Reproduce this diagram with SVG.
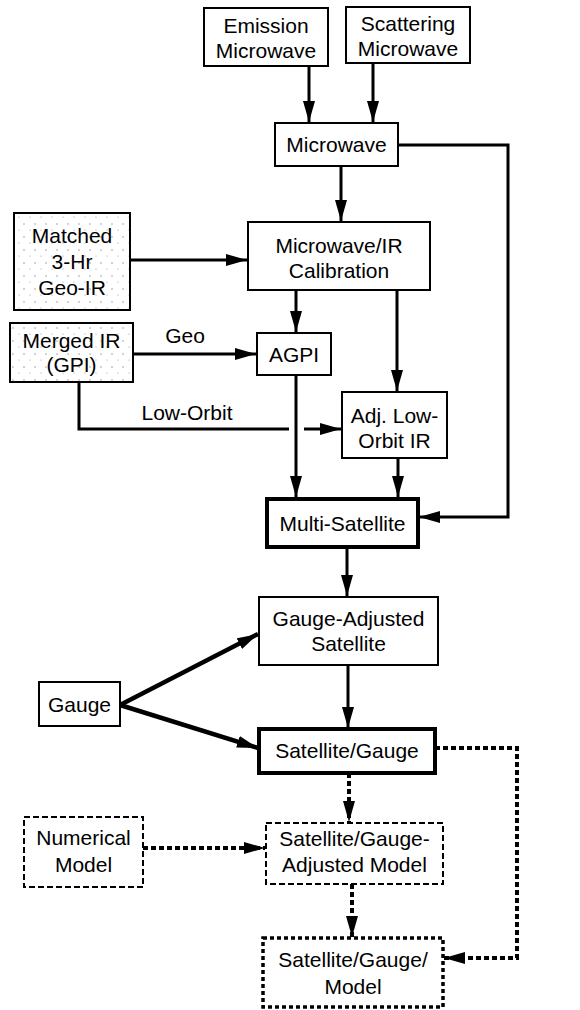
<svg xmlns="http://www.w3.org/2000/svg" width="580" height="1010" viewBox="0 0 580 1010">
<style>
text{font-family:"Liberation Sans",Arial,sans-serif;font-size:21px;fill:#000;text-anchor:middle}
.box{fill:#fff;stroke:#000;stroke-width:2}
.bold{fill:#fff;stroke:#000;stroke-width:4}
.stip{fill:url(#stipple);stroke:#000;stroke-width:2}
.dash{fill:#fff;stroke:#000;stroke-width:2;stroke-dasharray:6 3}
.dot{fill:#fff;stroke:#000;stroke-width:3.5;stroke-dasharray:4 3}
.c{fill:none;stroke:#000;stroke-width:3;marker-end:url(#ah)}
.cn{fill:none;stroke:#000;stroke-width:3}
.g{fill:none;stroke:#000;stroke-width:4.5;marker-end:url(#ah)}
.cd{fill:none;stroke:#000;stroke-width:4;stroke-dasharray:5 3;marker-end:url(#ah)}
</style>
<defs>
<pattern id="stipple" width="11" height="13" patternUnits="userSpaceOnUse">
<rect width="11" height="13" fill="#fff"/>
<circle cx="2" cy="3" r="0.7" fill="#888"/>
<circle cx="8" cy="9" r="0.6" fill="#999"/>
</pattern>
<marker id="ah" markerUnits="userSpaceOnUse" markerWidth="22" markerHeight="12" refX="21" refY="6" orient="auto">
<path d="M0,0 L21,6 L0,12 Z" fill="#000"/>
</marker>
</defs>
<rect width="580" height="1010" fill="#fff"/>
<g id="connectors">
<path class="c" d="M309,66 V122"/>
<path class="c" d="M373,63 V122"/>
<path class="c" d="M341,166 V221"/>
<path class="c" d="M398,145 H508 V517 H419"/>
<path class="c" d="M130,260 H247"/>
<path class="c" d="M133,354 H256"/>
<path class="c" d="M296,290 V332"/>
<path class="c" d="M397,290 V391"/>
<path class="cn" d="M79,382 V429 H289"/>
<path class="c" d="M304,429 H341"/>
<path class="c" d="M296,375 V497"/>
<path class="c" d="M398,458 V497"/>
<path class="c" d="M347,547 V596"/>
<path class="g" d="M120,705 L258,634"/>
<path class="g" d="M120,705 L258,748"/>
<path class="c" d="M348,665 V728"/>
<path class="cd" d="M435,748 H517 V958 H444"/>
<path class="cd" d="M349,773 V822"/>
<path class="cd" d="M143,848 H265"/>
<path class="cd" d="M352,884 V937"/>
<text x="185" y="343">Geo</text>
<text x="187" y="420">Low-Orbit</text>
</g>
<g id="emission"><rect class="box" x="204" y="8" width="124" height="58"/><text x="266" y="33">Emission</text><text x="266" y="58">Microwave</text></g>
<g id="scattering"><rect class="box" x="346" y="7" width="124" height="56"/><text x="408" y="31">Scattering</text><text x="408" y="56">Microwave</text></g>
<g id="microwave"><rect class="box" x="275" y="123" width="123" height="43"/><text x="336.5" y="152">Microwave</text></g>
<g id="matched"><rect class="stip" x="14" y="213" width="116" height="97"/><text x="72" y="243">Matched</text><text x="72" y="269">3-Hr</text><text x="72" y="295">Geo-IR</text></g>
<g id="calibration"><rect class="box" x="248" y="222" width="182" height="68"/><text x="339" y="253">Microwave/IR</text><text x="339" y="278">Calibration</text></g>
<g id="merged"><rect class="stip" x="10" y="323" width="123" height="59"/><text x="71.5" y="348">Merged IR</text><text x="71.5" y="372">(GPI)</text></g>
<g id="agpi"><rect class="box" x="257" y="333" width="74" height="42"/><text x="294" y="362">AGPI</text></g>
<g id="adjlow"><rect class="box" x="342" y="392" width="105" height="66"/><text x="394.5" y="423">Adj. Low-</text><text x="394.5" y="448">Orbit IR</text></g>
<g id="multisat"><rect class="bold" x="267" y="499" width="151" height="48"/><text x="342.5" y="531">Multi-Satellite</text></g>
<g id="gaugeadj"><rect class="box" x="259" y="597" width="179" height="68"/><text x="348.5" y="626">Gauge-Adjusted</text><text x="348.5" y="651">Satellite</text></g>
<g id="gauge"><rect class="box" x="39" y="682" width="81" height="44"/><text x="79.5" y="712">Gauge</text></g>
<g id="satgauge"><rect class="bold" x="259" y="729" width="176" height="44"/><text x="347" y="758">Satellite/Gauge</text></g>
<g id="numerical"><rect class="dash" x="24" y="817" width="119" height="70"/><text x="83.5" y="845">Numerical</text><text x="83.5" y="872">Model</text></g>
<g id="sgam"><rect class="dash" x="266" y="823" width="177" height="61"/><text x="354.5" y="846">Satellite/Gauge-</text><text x="354.5" y="872">Adjusted Model</text></g>
<g id="sgmodel"><rect class="dot" x="263" y="938" width="180" height="69"/><text x="353" y="967">Satellite/Gauge/</text><text x="353" y="994">Model</text></g>
</svg>
